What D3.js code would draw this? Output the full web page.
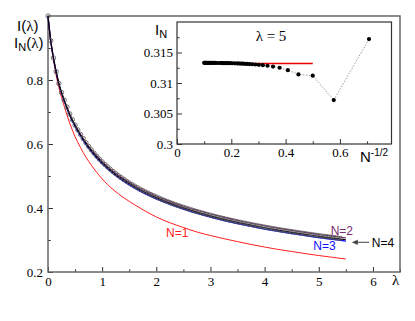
<!DOCTYPE html>
<html>
<head>
<meta charset="utf-8">
<script src="https://cdn.jsdelivr.net/npm/d3@7"></script>
<style>
  body { margin: 0; background: #fff; }
  svg { display: block; }
  .tick line { stroke: #333; }
  .domain { display: none; }
</style>
</head>
<body>
<div id="chart"></div>
<script>
'use strict';

// exact I(lambda), open circles (lambda step 0.05)
const exactLambda = [0, 0.05, 0.1, 0.15, 0.2, 0.25, 0.3, 0.35, 0.4, 0.45, 0.5, 0.55, 0.6, 0.65, 0.7, 0.75, 0.8, 0.85, 0.9, 0.95,
  1, 1.05, 1.1, 1.15, 1.2, 1.25, 1.3, 1.35, 1.4, 1.45, 1.5, 1.55, 1.6, 1.65, 1.7, 1.75, 1.8, 1.85, 1.9, 1.95,
  2, 2.05, 2.1, 2.15, 2.2, 2.25, 2.3, 2.35, 2.4, 2.45, 2.5, 2.55, 2.6, 2.65, 2.7, 2.75, 2.8, 2.85, 2.9, 2.95,
  3, 3.05, 3.1, 3.15, 3.2, 3.25, 3.3, 3.35, 3.4, 3.45, 3.5, 3.55, 3.6, 3.65, 3.7, 3.75, 3.8, 3.85, 3.9, 3.95,
  4, 4.05, 4.1, 4.15, 4.2, 4.25, 4.3, 4.35, 4.4, 4.45, 4.5, 4.55, 4.6, 4.65, 4.7, 4.75, 4.8, 4.85, 4.9, 4.95,
  5, 5.05, 5.1, 5.15, 5.2, 5.25, 5.3, 5.35, 5.4];
const exactValues = [1.000, 0.923, 0.869, 0.826, 0.789, 0.761, 0.737, 0.715, 0.694, 0.676, 0.659, 0.644, 0.630, 0.617, 0.604, 0.5925, 0.5815, 0.5713, 0.5617, 0.5526,
  0.5440, 0.5360, 0.5283, 0.5210, 0.5140, 0.5074, 0.5011, 0.4950, 0.4892, 0.4837, 0.4783, 0.4732, 0.4683, 0.4635, 0.4589, 0.4545, 0.4502, 0.4461, 0.4421, 0.4382,
  0.4344, 0.4308, 0.4273, 0.4238, 0.4205, 0.4172, 0.4141, 0.4110, 0.4080, 0.4051, 0.4022, 0.3995, 0.3968, 0.3941, 0.3915, 0.3890, 0.3866, 0.3842, 0.3818, 0.3795,
  0.3773, 0.3751, 0.3729, 0.3708, 0.3687, 0.3667, 0.3647, 0.3627, 0.3608, 0.3589, 0.3571, 0.3553, 0.3535, 0.3518, 0.3500, 0.3484, 0.3467, 0.3451, 0.3435, 0.3419,
  0.3403, 0.3388, 0.3373, 0.3358, 0.3344, 0.3329, 0.3315, 0.3301, 0.3288, 0.3274, 0.3261, 0.3248, 0.3235, 0.3222, 0.3210, 0.3197, 0.3185, 0.3173, 0.3161, 0.3150,
  0.3138, 0.3126, 0.3115, 0.3104, 0.3093, 0.3082, 0.3071, 0.3061, 0.3050];

// I_N(lambda) lines
const lineLambda = [0, 0.05, 0.1, 0.15, 0.2, 0.3, 0.4, 0.5, 0.6, 0.7, 0.8, 1.0, 1.2, 1.4, 1.6, 1.8, 2.0, 2.25, 2.5, 2.75, 3.0, 3.25, 3.5, 3.75, 4.0, 4.25, 4.5, 4.75, 5.0, 5.25, 5.5];
const valuesN1 = [1.000, 0.922, 0.865, 0.815, 0.777, 0.718, 0.666, 0.623, 0.589, 0.559, 0.534, 0.491, 0.458, 0.432, 0.410, 0.390, 0.372, 0.354, 0.339, 0.325, 0.314, 0.304, 0.295, 0.286, 0.278, 0.2705, 0.264, 0.2575, 0.2515, 0.246, 0.2405];
const valuesN2 = [1.000, 0.923, 0.869, 0.826, 0.789, 0.7375, 0.6945, 0.660, 0.631, 0.605, 0.583, 0.546, 0.5162, 0.4915, 0.4707, 0.4529, 0.4374, 0.4205, 0.4057, 0.3927, 0.3813, 0.3707, 0.3611, 0.3524, 0.3443, 0.3369, 0.3301, 0.3237, 0.3173, 0.3120, 0.3067];
const valuesN3 = [1.000, 0.923, 0.869, 0.825, 0.787, 0.734, 0.690, 0.6545, 0.625, 0.599, 0.5765, 0.538, 0.508, 0.4832, 0.4623, 0.4442, 0.4284, 0.4112, 0.3962, 0.3830, 0.3713, 0.3607, 0.3511, 0.3424, 0.3343, 0.3269, 0.3201, 0.3137, 0.3073, 0.3020, 0.2967];
const valuesN4 = [1.000, 0.923, 0.869, 0.826, 0.789, 0.736, 0.6925, 0.6575, 0.628, 0.602, 0.5795, 0.542, 0.512, 0.4872, 0.4663, 0.4482, 0.4324, 0.4152, 0.4002, 0.3870, 0.3753, 0.3647, 0.3551, 0.3464, 0.3383, 0.3309, 0.3241, 0.3177, 0.3113, 0.3060, 0.3007];

// inset: I_N at lambda = 5 versus N^-1/2
const insetN = [2, 3, 4, 5, 6, 7, 8, 9, 10, 11, 12, 13, 14, 15, 16, 17, 18, 19, 20, 22, 24, 26, 28, 30, 32, 34, 36, 38, 40, 45, 50, 55, 60, 65, 70, 75, 80, 85, 90, 95, 100];
const insetValues = [0.3172, 0.3072, 0.3112, 0.3114, 0.3121, 0.3125, 0.3127, 0.31283, 0.31292, 0.31298, 0.31303, 0.31307, 0.3131, 0.31313, 0.31315, 0.31317, 0.31318, 0.3132, 0.31321,
  0.31323, 0.31324, 0.31325, 0.31326, 0.31326, 0.31327, 0.31327, 0.31327, 0.31328, 0.31328, 0.31328, 0.31329, 0.31329, 0.31329, 0.31329, 0.3133, 0.3133, 0.3133, 0.3133, 0.3133, 0.3133, 0.3133];
const insetLimit = 0.3132;
const insetLimitRange = [0.1, 0.5];

const xTicks = [0, 1, 2, 3, 4, 5, 6];
const xMinor = [0.5, 1.5, 2.5, 3.5, 4.5, 5.5, 6.5];
const yTicks = [0.2, 0.4, 0.6, 0.8];
const yMinor = [0.3, 0.5, 0.7, 0.9];
const ixTicks = [0, 0.2, 0.4, 0.6];
const ixMinor = [0.1, 0.3, 0.5, 0.7];
const iyTicks = [0.3, 0.305, 0.31, 0.315];
const iyMinor = [0.3025, 0.3075, 0.3125, 0.3175];

const curveLabels = [
  {text: 'N=1', lambda: 2.18, value: 0.309, color: '#ff2020'},
  {text: 'N=2', lambda: 5.22, value: 0.3156, color: '#7a2a6e'},
  {text: 'N=3', lambda: 4.90, value: 0.2688, color: '#1010ff'},
  {text: 'N=4', lambda: 5.98, value: 0.279, color: '#000'}
];
const arrowFrom = {lambda: 5.93, value: 0.2928};
const arrowTo = {lambda: 5.61, value: 0.2928};

const SERIF = 'Liberation Serif, DejaVu Serif, serif';
const SANS = 'Liberation Sans, Arial, sans-serif';

const W = 415, H = 321;
const svg = d3.select('#chart').append('svg').attr('width', W).attr('height', H);

const x = d3.scaleLinear().domain([0, 6.5]).range([48, 400]);
const y = d3.scaleLinear().domain([0.2, 1.0]).range([272, 16]);

function serifLabels(sel) {
    sel.attr('font-family', null).attr('font-size', null);
    sel.selectAll('text')
        .attr('fill', '#000')
        .style('font-family', SERIF)
        .style('font-size', '13px');
}

function drawAxes(g, sx, sy, opt) {
    let [x0, x1] = sx.range(), [y0, y1] = sy.range();
    g.append('g').attr('transform', `translate(0,${y0})`)
        .call(d3.axisBottom(sx).tickValues(opt.xt).tickSize(-5).tickSizeOuter(0).tickPadding(opt.xpad).tickFormat(opt.xf))
        .call(serifLabels);
    g.append('g').attr('transform', `translate(0,${y0})`)
        .call(d3.axisBottom(sx).tickValues(opt.xm).tickSize(-2.7).tickSizeOuter(0).tickFormat(''));
    g.append('g').attr('transform', `translate(${x0},0)`)
        .call(d3.axisLeft(sy).tickValues(opt.yt).tickSize(-5).tickSizeOuter(0).tickPadding(opt.ypad).tickFormat(opt.yf))
        .call(serifLabels);
    g.append('g').attr('transform', `translate(${x0},0)`)
        .call(d3.axisLeft(sy).tickValues(opt.ym).tickSize(-2.7).tickSizeOuter(0).tickFormat(''));
    g.append('rect')
        .attr('x', x0).attr('y', y1).attr('width', x1 - x0).attr('height', y0 - y1)
        .attr('fill', 'none').attr('stroke', opt.frame).attr('stroke-width', opt.fw);
}

// main chart
const main = svg.append('g');
drawAxes(main, x, y, {xt: xTicks, xm: xMinor, yt: yTicks, ym: yMinor, xpad: 5, ypad: 5,
    xf: d3.format('d'), yf: d3.format('.1f'), frame: '#666', fw: 1.5});

let line = d3.line().x(d => x(d[0])).y(d => y(d[1])).curve(d3.curveMonotoneX);
let series = [
    {values: valuesN1, color: '#ff2020', w: 1},
    {values: valuesN3, color: '#0000ff', w: 1.3},
    {values: valuesN2, color: '#7a2a6e', w: 1.1},
    {values: valuesN4, color: '#000', w: 1.2}
];
main.selectAll('path.curve')
    .data(series)
    .enter()
    .append('path')
    .attr('class', 'curve')
    .attr('d', s => line(lineLambda.map((l, i) => [l, s.values[i]])))
    .attr('fill', 'none')
    .attr('stroke', s => s.color)
    .attr('stroke-width', s => s.w);

main.selectAll('circle.exact')
    .data(exactLambda.map((l, i) => [l, exactValues[i]]))
    .enter()
    .append('circle')
    .attr('class', 'exact')
    .attr('cx', d => x(d[0]))
    .attr('cy', d => y(d[1]))
    .attr('r', 2.2)
    .attr('fill', 'none')
    .attr('stroke', '#555')
    .attr('stroke-width', 0.8);

main.selectAll('text.nlabel')
    .data(curveLabels)
    .enter()
    .append('text')
    .attr('class', 'nlabel')
    .attr('x', d => x(d.lambda))
    .attr('y', d => y(d.value))
    .attr('fill', d => d.color)
    .style('font-family', SANS)
    .style('font-size', '12px')
    .text(d => d.text);

main.append('line')
    .attr('x1', x(arrowFrom.lambda)).attr('y1', y(arrowFrom.value))
    .attr('x2', x(arrowTo.lambda) + 4).attr('y2', y(arrowTo.value))
    .attr('stroke', '#444').attr('stroke-width', 1);
main.append('path')
    .attr('d', `M${x(arrowTo.lambda)},${y(arrowTo.value)} l6,-2.6 l0,5.2 z`)
    .attr('fill', '#444');

// axis titles
let ylab = main.append('text')
    .attr('x', 17).attr('y', 31)
    .style('font-family', SANS)
    .style('font-size', '15px');
ylab.append('tspan').text('I(');
ylab.append('tspan').style('font-family', SERIF).text('λ');
ylab.append('tspan').text(')');

let ylab2 = main.append('text')
    .attr('x', 14).attr('y', 48)
    .style('font-family', SANS)
    .style('font-size', '15px');
ylab2.append('tspan').text('I');
ylab2.append('tspan').attr('dy', 3).style('font-size', '11px').text('N');
ylab2.append('tspan').attr('dy', -3).text('(');
ylab2.append('tspan').style('font-family', SERIF).text('λ');
ylab2.append('tspan').text(')');

main.append('text')
    .attr('x', 392).attr('y', 285)
    .style('font-family', SERIF)
    .style('font-size', '15px')
    .text('λ');

// inset
const xi = d3.scaleLinear().domain([0, 0.79]).range([177, 391.5]);
const yi = d3.scaleLinear().domain([0.3, 0.32]).range([144, 22]);
const inset = svg.append('g');
inset.append('rect')
    .attr('x', 177).attr('y', 22).attr('width', 214.5).attr('height', 122)
    .attr('fill', '#fff');
drawAxes(inset, xi, yi, {xt: ixTicks, xm: ixMinor, yt: iyTicks, ym: iyMinor, xpad: 4, ypad: 4,
    xf: d => d === 0 ? '0' : d3.format('.1f')(d), yf: d => String(+d.toFixed(3)), frame: '#333', fw: 1.2});

inset.append('line')
    .attr('x1', xi(insetLimitRange[0])).attr('x2', xi(insetLimitRange[1]))
    .attr('y1', yi(insetLimit)).attr('y2', yi(insetLimit))
    .attr('stroke', '#ee0000').attr('stroke-width', 1.5);

let insetPts = insetN.map((n, i) => [Math.pow(n, -0.5), insetValues[i]]);
inset.append('path')
    .attr('d', d3.line().x(d => xi(d[0])).y(d => yi(d[1]))(insetPts))
    .attr('fill', 'none')
    .attr('stroke', '#999')
    .attr('stroke-width', 1)
    .attr('stroke-dasharray', '1.5,1.5');
inset.selectAll('circle')
    .data(insetPts)
    .enter()
    .append('circle')
    .attr('cx', d => xi(d[0]))
    .attr('cy', d => yi(d[1]))
    .attr('r', 2.1)
    .attr('fill', '#000');

let ilab = inset.append('text')
    .attr('x', 155).attr('y', 35)
    .style('font-family', SANS)
    .style('font-size', '15px');
ilab.append('tspan').text('I');
ilab.append('tspan').attr('dy', 3).style('font-size', '11px').text('N');

inset.append('text')
    .attr('x', 271).attr('y', 41)
    .attr('text-anchor', 'middle')
    .style('font-family', SERIF)
    .style('font-size', '15px')
    .text('λ = 5');

let nlab = inset.append('text')
    .attr('x', 360).attr('y', 162)
    .style('font-family', SANS)
    .style('font-size', '15px');
nlab.append('tspan').text('N');
nlab.append('tspan').attr('dy', -6).style('font-size', '10px').text('-1/2');
</script>
</body>
</html>
